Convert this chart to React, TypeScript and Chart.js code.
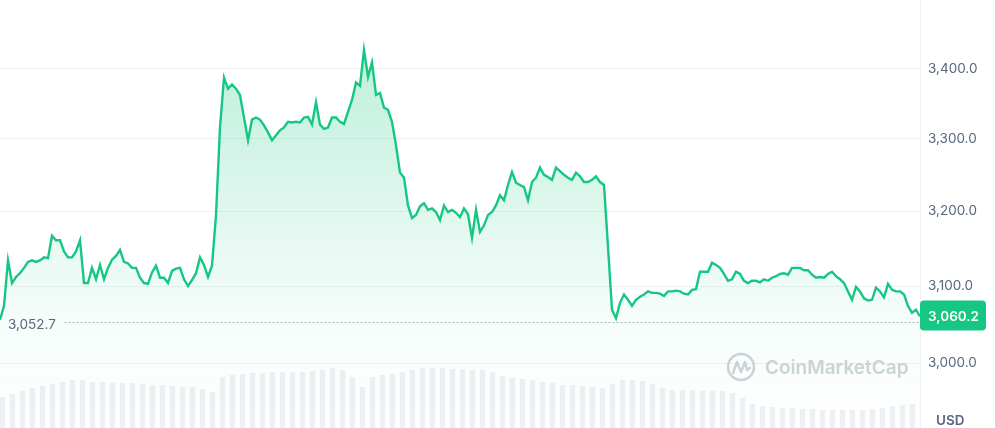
import React, { useEffect, useRef } from 'react';
import { Chart, registerables } from 'chart.js';

Chart.register(...registerables);

// Price series (USD), evenly spaced through the period
const prices: number[] = [
  3056, 3074, 3134, 3104, 3112, 3117, 3124, 3132, 3134, 3132,
  3134, 3138, 3137, 3167, 3161, 3161, 3146, 3138, 3138, 3146,
  3161, 3104, 3104, 3124, 3109, 3128, 3109, 3124, 3135, 3140,
  3148, 3132, 3130, 3124, 3124, 3111, 3104, 3103, 3118, 3127,
  3111, 3111, 3104, 3120, 3123, 3124, 3109, 3100, 3108, 3117,
  3138, 3128, 3112, 3127, 3195, 3316, 3387, 3371, 3377, 3371,
  3362, 3330, 3298, 3327, 3330, 3327, 3319, 3309, 3298, 3305,
  3312, 3316, 3324, 3323, 3324, 3323, 3330, 3331, 3320, 3352,
  3320, 3314, 3316, 3330, 3330, 3324, 3321, 3338, 3355, 3380,
  3375, 3427, 3388, 3409, 3362, 3365, 3344, 3341, 3324, 3291,
  3253, 3246, 3208, 3191, 3195, 3207, 3211, 3202, 3204, 3199,
  3188, 3208, 3199, 3202, 3198, 3192, 3204, 3196, 3164, 3202,
  3172, 3181, 3195, 3199, 3208, 3222, 3215, 3236, 3254, 3239,
  3236, 3233, 3215, 3240, 3246, 3260, 3250, 3247, 3243, 3260,
  3255, 3250, 3246, 3243, 3253, 3248, 3240, 3240, 3243, 3248,
  3240, 3236, 3152, 3069, 3058, 3078, 3089, 3082, 3074, 3082,
  3086, 3089, 3093, 3091, 3091, 3090, 3087, 3093, 3093, 3094,
  3093, 3090, 3089, 3095, 3096, 3119, 3119, 3119, 3131, 3128,
  3124, 3116, 3107, 3109, 3119, 3116, 3107, 3104, 3107, 3107,
  3105, 3109, 3107, 3111, 3113, 3116, 3117, 3115, 3124, 3124,
  3124, 3121, 3121, 3115, 3111, 3112, 3111, 3116, 3119, 3113,
  3109, 3104, 3093, 3082, 3099, 3093, 3084, 3081, 3082, 3098,
  3093, 3085, 3103, 3095, 3093, 3093, 3089, 3074, 3065, 3069,
  3060.2,
];

// Trading volume (billions USD), evenly spaced through the period
const volumes: number[] = [
  1.55, 1.70, 1.85, 2.00, 2.10, 2.20, 2.30, 2.40, 2.40, 2.30,
  2.30, 2.25, 2.25, 2.25, 2.20, 2.15, 2.15, 2.10, 2.05, 2.05,
  1.95, 1.80, 2.55, 2.65, 2.70, 2.75, 2.75, 2.80, 2.80, 2.80,
  2.80, 2.85, 2.90, 3.00, 2.90, 2.55, 2.05, 2.55, 2.65, 2.70,
  2.80, 2.90, 3.00, 3.00, 3.00, 2.95, 2.95, 2.90, 2.90, 2.80,
  2.60, 2.50, 2.45, 2.40, 2.30, 2.25, 2.15, 2.15, 2.10, 2.05,
  2.00, 2.20, 2.40, 2.40, 2.35, 2.20, 2.00, 1.90, 1.90, 1.90,
  1.85, 1.85, 1.85, 1.75, 1.50, 1.20, 1.10, 1.05, 1.00, 1.00,
  0.95, 0.95, 0.90, 0.90, 0.90, 0.90, 0.90, 0.95, 1.00, 1.10,
  1.15, 1.20, 1.25,
];

const priceLabels: string[] = prices.map((_, i) => `p${i}`);
const volumeLabels: string[] = volumes.map((_, i) => `v${i}`);

const priceTicks: number[] = [3000, 3100, 3200, 3300, 3400];
const priceMin = 2918.7;
const priceMax = 3500.4;
const volumeMax = 21.4;
const openPrice = 3052.7;
const lastPrice = 3060.2;
const currency = 'USD';
const watermark = 'CoinMarketCap';

const GREEN = '#16c784';
const GRAY_TEXT = '#58667e';
const FONT = 'Inter, "Noto Sans", sans-serif';

const fmt = (v: number) =>
  v.toLocaleString('en-US', { minimumFractionDigits: 1, maximumFractionDigits: 1 });

const decorPlugin = {
  id: 'cmcDecor',
  beforeDatasetsDraw(chart: any) {
    const { ctx, chartArea, scales } = chart;
    const y = scales.y;
    ctx.save();
    // watermark
    const cx = chartArea.right - 179;
    const cy = 367;
    ctx.strokeStyle = 'rgba(190,196,206,0.75)';
    ctx.lineWidth = 2.5;
    ctx.beginPath();
    ctx.arc(cx, cy, 13, 0, Math.PI * 2);
    ctx.stroke();
    ctx.lineJoin = 'round';
    ctx.lineCap = 'round';
    ctx.beginPath();
    ctx.moveTo(cx - 8, cy + 6);
    ctx.lineTo(cx - 4, cy - 5);
    ctx.lineTo(cx, cy + 5);
    ctx.lineTo(cx + 4, cy - 5);
    ctx.lineTo(cx + 6, cy + 3);
    ctx.lineTo(cx + 9, cy + 1);
    ctx.stroke();
    ctx.fillStyle = 'rgba(190,196,206,0.75)';
    ctx.font = `600 19px ${FONT}`;
    ctx.textAlign = 'left';
    ctx.textBaseline = 'middle';
    ctx.fillText(watermark, cx + 24, cy + 1);

    // dotted opening price line
    const py = Math.round(y.getPixelForValue(openPrice)) + 0.5;
    ctx.strokeStyle = '#a6b0c3';
    ctx.lineWidth = 1;
    ctx.setLineDash([1, 3]);
    ctx.beginPath();
    ctx.moveTo(chartArea.left + 65, py);
    ctx.lineTo(chartArea.right - 2, py);
    ctx.stroke();
    ctx.setLineDash([]);
    ctx.restore();
  },
  afterDraw(chart: any) {
    const { ctx, chartArea, scales, height } = chart;
    const y = scales.y;
    ctx.save();
    // opening price label
    const py = y.getPixelForValue(openPrice);
    ctx.fillStyle = GRAY_TEXT;
    ctx.font = `13.5px ${FONT}`;
    ctx.textAlign = 'left';
    ctx.textBaseline = 'middle';
    ctx.fillText(fmt(openPrice), chartArea.left + 8, py + 3);

    // current price tag
    const ly = y.getPixelForValue(lastPrice);
    const bx = chartArea.right;
    const bw = 66;
    const bh = 30;
    const by = ly - 1 - bh / 2;
    ctx.fillStyle = GREEN;
    ctx.beginPath();
    if (ctx.roundRect) ctx.roundRect(bx, by, bw, bh, 4);
    else ctx.rect(bx, by, bw, bh);
    ctx.fill();
    ctx.fillStyle = '#ffffff';
    ctx.font = `600 13.5px ${FONT}`;
    ctx.fillText(fmt(lastPrice), bx + 8, by + bh / 2 + 1);

    // currency
    ctx.fillStyle = GRAY_TEXT;
    ctx.font = `600 13.5px ${FONT}`;
    ctx.textAlign = 'left';
    ctx.fillText(currency, chartArea.right + 16, height - 7);
    ctx.restore();
  },
};

export default function App() {
  const canvasRef = useRef<HTMLCanvasElement | null>(null);

  useEffect(() => {
    document.body.style.margin = '0';
    const canvas = canvasRef.current;
    if (!canvas) return;
    Chart.defaults.font.family = FONT;

    const chart = new Chart(canvas, {
      type: 'line',
      data: {
        labels: priceLabels,
        datasets: [
          {
            type: 'line',
            label: 'Price',
            data: prices,
            xAxisID: 'x',
            yAxisID: 'y',
            borderColor: GREEN,
            borderWidth: 2.4,
            pointRadius: 0,
            tension: 0,
            fill: 'start',
            order: 1,
            backgroundColor: (context: any) => {
              const { chart: ch } = context;
              const area = ch.chartArea;
              if (!area) return 'rgba(22,199,132,0.1)';
              const g = ch.ctx.createLinearGradient(0, area.top, 0, area.bottom);
              g.addColorStop(0, 'rgba(22,199,132,0.32)');
              g.addColorStop(0.75, 'rgba(22,199,132,0.04)');
              g.addColorStop(1, 'rgba(22,199,132,0)');
              return g;
            },
          } as any,
          {
            type: 'bar',
            label: 'Volume',
            data: volumes,
            xAxisID: 'xv',
            yAxisID: 'yv',
            backgroundColor: '#eef0f4',
            borderWidth: 0,
            barPercentage: 1.08,
            categoryPercentage: 1,
            order: 2,
          } as any,
        ],
      },
      options: {
        animation: false,
        responsive: false,
        devicePixelRatio: 1,
        layout: { padding: 0, autoPadding: false } as any,
        plugins: {
          legend: { display: false },
          tooltip: { enabled: false },
        },
        scales: {
          x: { type: 'category', display: false, offset: false },
          xv: { type: 'category', labels: volumeLabels, display: false, offset: false },
          y: {
            type: 'logarithmic',
            position: 'right',
            min: priceMin,
            max: priceMax,
            bounds: 'data',
            afterBuildTicks: (scale: any) => {
              scale.ticks = priceTicks.map((v) => ({ value: v }));
            },
            afterFit: (scale: any) => {
              scale.width = 75;
              scale.paddingTop = 0;
              scale.paddingBottom = 0;
            },
            ticks: {
              padding: 8,
              color: GRAY_TEXT,
              font: { size: 13.5, family: FONT },
              callback: (v: any) => fmt(Number(v)),
            },
            grid: { color: '#eff2f5', drawTicks: false, lineWidth: 1 },
            border: { display: true, color: '#eff2f5' },
          } as any,
          yv: { type: 'linear', display: false, min: 0, max: volumeMax },
        },
      } as any,
      plugins: [decorPlugin],
    });
    return () => chart.destroy();
  }, []);

  return (
    <div style={{ width: 995, height: 428, position: 'relative', background: '#fff' }}>
      <canvas ref={canvasRef} width={995} height={428} />
    </div>
  );
}
